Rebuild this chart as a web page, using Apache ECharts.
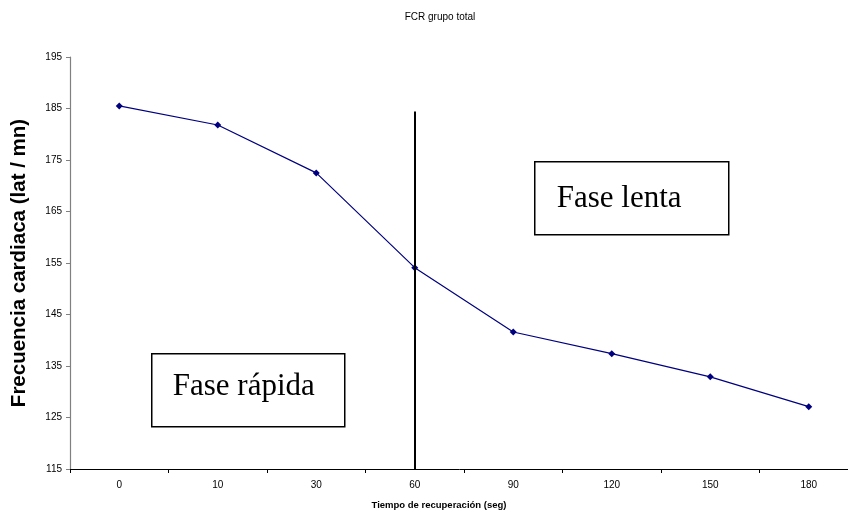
<!DOCTYPE html>
<html>
<head>
<meta charset="utf-8">
<script src="https://cdn.jsdelivr.net/npm/echarts@6/dist/echarts.min.js"></script>
<style>
  html, body { margin: 0; padding: 0; background: #fff; }
  #chart { width: 848px; height: 513px; }
</style>
</head>
<body>
<div id="chart"></div>
<script>
// Recovery time (seconds) and heart rate (beats / min)
const categories = ['0', '10', '30', '60', '90', '120', '150', '180'];
const heartRate = [185.5, 181.8, 172.5, 154.1, 141.6, 137.4, 132.9, 127.1];
const yTicks = { min: 115, max: 195, interval: 10 };

// Phase boundary drawn at 60 s
const boundaryCategoryIndex = 3;
const boundaryTop = 184.4;

const chart = echarts.init(document.getElementById('chart'), null, { renderer: 'canvas' });

chart.setOption({
  backgroundColor: '#ffffff',
  animation: false,
  title: {
    text: 'FCR grupo total',
    left: 435,
    textAlign: 'center',
    top: 7,
    textStyle: { fontFamily: 'Liberation Sans, Arial', fontSize: 10, fontWeight: 'normal', color: '#000' }
  },
  grid: { left: 70, right: -10, top: 57, bottom: 44, containLabel: false, outerBoundsMode: 'none' },
  xAxis: {
    type: 'category',
    data: categories,
    boundaryGap: true,
    name: 'Tiempo de recuperación (seg)',
    nameLocation: 'middle',
    nameGap: 31,
    nameTextStyle: { fontFamily: 'Liberation Sans, Arial', fontSize: 9.5, fontWeight: 'bold', color: '#000', padding: [0, 50, 0, 0] },
    axisLine: { lineStyle: { color: '#000', width: 1 } },
    axisTick: { show: true, length: 4, lineStyle: { color: '#000' } },
    axisLabel: { fontFamily: 'Liberation Sans, Arial', fontSize: 10, color: '#000', margin: 11 },
    splitLine: { show: false }
  },
  yAxis: {
    type: 'value',
    min: yTicks.min,
    max: yTicks.max,
    interval: yTicks.interval,
    name: 'Frecuencia cardiaca (lat / mn)',
    nameLocation: 'middle',
    nameGap: 40,
    nameTextStyle: { fontFamily: 'Liberation Sans, Arial', fontSize: 20.5, fontWeight: 'bold', color: '#000' },
    axisLine: { show: true, lineStyle: { color: '#808080', width: 1.2 } },
    axisTick: { show: true, length: 4, lineStyle: { color: '#808080' } },
    axisLabel: { fontFamily: 'Liberation Sans, Arial', fontSize: 10, color: '#000', margin: 8 },
    splitLine: { show: false }
  },
  series: [{
    type: 'line',
    data: heartRate,
    symbol: 'diamond',
    symbolSize: 7,
    lineStyle: { color: '#000080', width: 1.2 },
    itemStyle: { color: '#000080' },
    markLine: {
      silent: true,
      symbol: ['none', 'none'],
      label: { show: false },
      lineStyle: { color: '#000', width: 2, type: 'solid' },
      data: [[
        { coord: [boundaryCategoryIndex, boundaryTop] },
        { coord: [boundaryCategoryIndex, yTicks.min] }
      ]]
    }
  }],
  graphic: [
    {
      type: 'group', left: 534, top: 161,
      children: [
        { type: 'rect', shape: { x: 0, y: 0, width: 194, height: 73 }, style: { fill: '#fff', stroke: '#000', lineWidth: 1.5 } },
        { type: 'text', x: 22, y: 37, style: { text: 'Fase lenta', fontFamily: 'Liberation Serif, Times New Roman', fontSize: 31, fill: '#000', textVerticalAlign: 'middle' } }
      ]
    },
    {
      type: 'group', left: 151, top: 353,
      children: [
        { type: 'rect', shape: { x: 0, y: 0, width: 193, height: 73 }, style: { fill: '#fff', stroke: '#000', lineWidth: 1.5 } },
        { type: 'text', x: 21, y: 33, style: { text: 'Fase rápida', fontFamily: 'Liberation Serif, Times New Roman', fontSize: 31, fill: '#000', textVerticalAlign: 'middle' } }
      ]
    }
  ]
});
</script>
</body>
</html>
